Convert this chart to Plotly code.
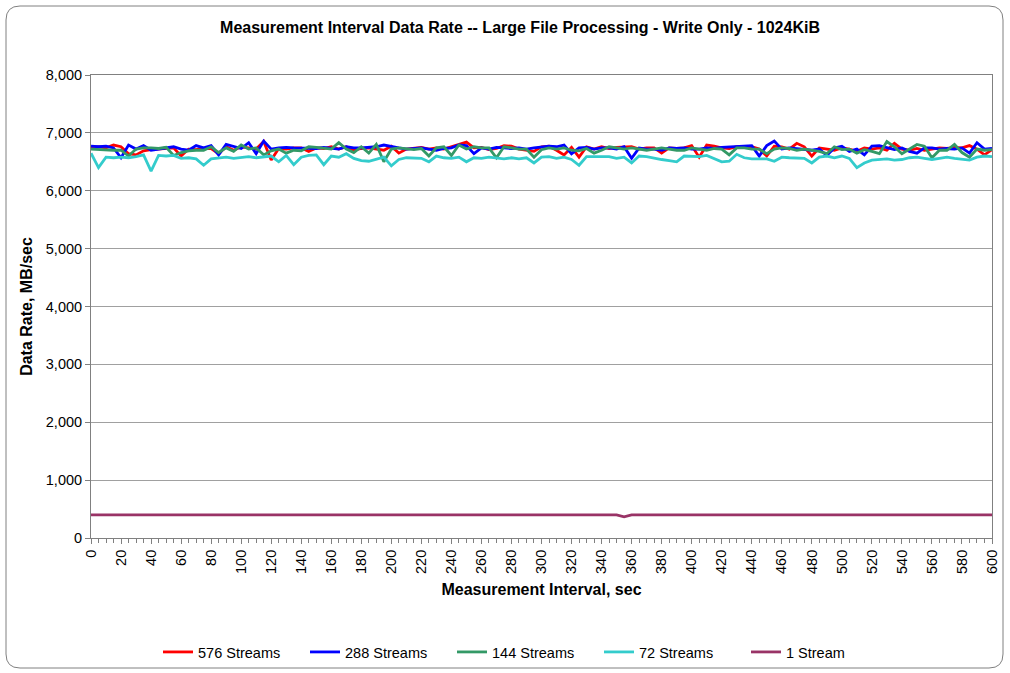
import plotly.graph_objects as go

# variables
size_plot = [1010, 673]  # [width, height]
font_family = 'Liberation Sans, Arial, sans-serif'
title_text = 'Measurement Interval Data Rate -- Large File Processing - Write Only - 1024KiB'
x_label = 'Measurement Interval, sec'
y_label = 'Data Rate, MB/sec'

# data (one point every 5 sec)
interval_sec = list(range(0, 605, 5))

rate_576 = [
    6750, 6760, 6740, 6790, 6760, 6640, 6620, 6690, 6710, 6720,
    6730, 6740, 6600, 6720, 6710, 6730, 6730, 6640, 6760, 6700,
    6760, 6740, 6720, 6850, 6530, 6730, 6720, 6740, 6740, 6680,
    6740, 6730, 6760, 6720, 6760, 6700, 6730, 6740, 6720, 6700,
    6770, 6650, 6720, 6740, 6750, 6720, 6740, 6720, 6760, 6790,
    6840, 6740, 6750, 6710, 6730, 6780, 6770, 6720, 6700, 6680,
    6760, 6770, 6700, 6620, 6750, 6580, 6760, 6720, 6760, 6730,
    6750, 6760, 6760, 6720, 6740, 6740, 6650, 6740, 6730, 6740,
    6780, 6580, 6790, 6770, 6740, 6730, 6760, 6750, 6760, 6720,
    6600, 6770, 6760, 6720, 6820, 6760, 6600, 6740, 6720, 6700,
    6740, 6720, 6680, 6740, 6720, 6740, 6700, 6820, 6720, 6700,
    6730, 6700, 6720, 6740, 6730, 6750, 6740, 6780, 6720, 6620, 6710,
]
rate_288 = [
    6770, 6760, 6770, 6740, 6570, 6790, 6720, 6780, 6700, 6720,
    6740, 6760, 6720, 6700, 6780, 6740, 6780, 6620, 6800, 6760,
    6730, 6830, 6640, 6860, 6720, 6740, 6750, 6740, 6740, 6740,
    6730, 6750, 6740, 6720, 6760, 6740, 6740, 6750, 6760, 6790,
    6760, 6740, 6720, 6730, 6740, 6720, 6700, 6730, 6740, 6790,
    6780, 6640, 6740, 6720, 6750, 6740, 6730, 6740, 6720, 6740,
    6760, 6770, 6760, 6790, 6640, 6740, 6750, 6720, 6740, 6740,
    6720, 6760, 6560, 6740, 6720, 6720, 6700, 6740, 6730, 6740,
    6720, 6720, 6740, 6730, 6750, 6760, 6770, 6770, 6780, 6600,
    6780, 6860, 6720, 6740, 6730, 6720, 6700, 6720, 6610, 6740,
    6770, 6680, 6720, 6620, 6770, 6780, 6740, 6710, 6740, 6680,
    6650, 6740, 6740, 6720, 6730, 6720, 6740, 6650, 6830, 6720, 6730,
]
rate_144 = [
    6720, 6710, 6710, 6700, 6700, 6600, 6720, 6740, 6740, 6730,
    6750, 6610, 6660, 6690, 6700, 6700, 6760, 6660, 6740, 6680,
    6790, 6720, 6740, 6620, 6690, 6720, 6650, 6700, 6690, 6760,
    6750, 6740, 6720, 6830, 6720, 6660, 6760, 6650, 6800, 6500,
    6720, 6740, 6720, 6710, 6730, 6600, 6740, 6760, 6610, 6790,
    6720, 6760, 6740, 6740, 6570, 6760, 6740, 6720, 6720, 6580,
    6710, 6740, 6720, 6740, 6700, 6690, 6730, 6650, 6700, 6760,
    6740, 6720, 6740, 6720, 6700, 6720, 6740, 6720, 6700, 6700,
    6740, 6720, 6700, 6730, 6720, 6620, 6740, 6740, 6720, 6720,
    6640, 6720, 6740, 6730, 6700, 6720, 6700, 6680, 6640, 6760,
    6710, 6720, 6650, 6710, 6680, 6640, 6850, 6760, 6640, 6720,
    6800, 6770, 6570, 6700, 6700, 6800, 6660, 6580, 6720, 6700, 6710,
]
rate_72 = [
    6650, 6400, 6580, 6570, 6580, 6570, 6590, 6620, 6340, 6610,
    6600, 6610, 6560, 6570, 6550, 6440, 6550, 6560, 6580, 6560,
    6580, 6590, 6570, 6580, 6600, 6500, 6610, 6450, 6580, 6610,
    6620, 6450, 6600, 6580, 6640, 6560, 6520, 6510, 6550, 6580,
    6430, 6540, 6570, 6570, 6560, 6500, 6600, 6570, 6560, 6580,
    6500, 6570, 6560, 6580, 6560, 6550, 6570, 6550, 6570, 6480,
    6580, 6590, 6560, 6580, 6540, 6440, 6590, 6590, 6580, 6590,
    6560, 6580, 6480, 6600, 6590, 6560, 6540, 6520, 6500, 6600,
    6600, 6590, 6610, 6560, 6500, 6510, 6630, 6570, 6550, 6550,
    6550, 6510, 6580, 6570, 6570, 6560, 6480, 6580, 6600, 6570,
    6600, 6560, 6400, 6480, 6530, 6540, 6550, 6530, 6540, 6570,
    6580, 6560, 6540, 6560, 6580, 6560, 6550, 6530, 6580, 6600, 6590,
]
rate_1 = [
    400, 400, 400, 400, 400, 400, 400, 400, 400, 400,
    400, 400, 400, 400, 400, 400, 400, 400, 400, 400,
    400, 400, 400, 400, 400, 400, 400, 400, 400, 400,
    400, 400, 400, 400, 400, 400, 400, 400, 400, 400,
    400, 400, 400, 400, 400, 400, 400, 400, 400, 400,
    400, 400, 400, 400, 400, 400, 400, 400, 400, 400,
    400, 400, 400, 400, 400, 400, 400, 400, 400, 400,
    400, 366, 400, 400, 400, 400, 400, 400, 400, 400,
    400, 400, 400, 400, 400, 400, 400, 400, 400, 400,
    400, 400, 400, 400, 400, 400, 400, 400, 400, 400,
    400, 400, 400, 400, 400, 400, 400, 400, 400, 400,
    400, 400, 400, 400, 400, 400, 400, 400, 400, 400, 400,
]

series = [
    ('576 Streams', rate_576, '#FF0000'),
    ('288 Streams', rate_288, '#0000FF'),
    ('144 Streams', rate_144, '#339966'),
    ('72 Streams', rate_72, '#33CCCC'),
    ('1 Stream', rate_1, '#993366'),
]

fig = go.Figure()
for name, values, color in series:
    fig.add_trace(go.Scatter(x=interval_sec, y=values, mode='lines', name=name,
                             line=dict(color=color, width=2.8)))

# plot area in pixels
left, right, top, bottom = 91, 18, 75, 135
pw = size_plot[0] - left - right
ph = size_plot[1] - top - bottom

def px_x(p):
    return (p - left) / pw

def px_y(p):
    return (size_plot[1] - bottom - p) / ph

# outer rounded border of the chart
x0, x1, y0, y1, r = 6, 1003, 6, 668, 14
path = (f'M {px_x(x0 + r)},{px_y(y0)} L {px_x(x1 - r)},{px_y(y0)} '
        f'Q {px_x(x1)},{px_y(y0)} {px_x(x1)},{px_y(y0 + r)} '
        f'L {px_x(x1)},{px_y(y1 - r)} Q {px_x(x1)},{px_y(y1)} {px_x(x1 - r)},{px_y(y1)} '
        f'L {px_x(x0 + r)},{px_y(y1)} Q {px_x(x0)},{px_y(y1)} {px_x(x0)},{px_y(y1 - r)} '
        f'L {px_x(x0)},{px_y(y0 + r)} Q {px_x(x0)},{px_y(y0)} {px_x(x0 + r)},{px_y(y0)} Z')
fig.add_shape(type='path', path=path, xref='paper', yref='paper',
              line=dict(color='#808080', width=1), layer='below')

fig.update_layout(
    width=size_plot[0],
    height=size_plot[1],
    margin=dict(l=left, r=right, t=top, b=bottom, autoexpand=False),
    paper_bgcolor='white',
    plot_bgcolor='white',
    font=dict(family=font_family, color='black', size=14.5),
    title=dict(text='<b>' + title_text + '</b>', x=px_x(520), xanchor='center', xref='paper',
               y=1 - 27 / size_plot[1], yanchor='middle', font=dict(size=16)),
    showlegend=True,
    legend=dict(orientation='h', x=px_x(158), xanchor='left',
                y=px_y(652), yanchor='middle', font=dict(size=14.5),
                bgcolor='rgba(0,0,0,0)',
                entrywidth=102, entrywidthmode='pixels', tracegroupgap=0),
)

fig.update_xaxes(
    range=[0, 600],
    tickmode='array',
    tickvals=list(range(0, 620, 20)),
    ticktext=[str(v) for v in range(0, 620, 20)],
    tickangle=-90,
    ticks='outside', ticklen=5, tickcolor='#808080',
    minor=dict(ticks='outside', ticklen=4, dtick=5, tick0=0, tickcolor='#808080'),
    showline=True, linecolor='#808080', linewidth=1, mirror=True,
    showgrid=False, zeroline=False, automargin=False,
    title=dict(text='<b>' + x_label + '</b>', font=dict(size=16), standoff=10),
)
fig.update_yaxes(
    range=[0, 8000],
    tickmode='array',
    tickvals=list(range(0, 9000, 1000)),
    ticktext=[f'{v:,}' for v in range(0, 9000, 1000)],
    ticks='outside', ticklen=5, tickcolor='#808080',
    showline=True, linecolor='#808080', linewidth=1, mirror=True,
    showgrid=True, gridcolor='#A0A0A0', gridwidth=1, zeroline=False, automargin=False,
    title=dict(text='<b>' + y_label + '</b>', font=dict(size=16), standoff=9),
)

# the page body has a default margin; remove it so the chart sits at the window origin
fig.write_html('out.html', config={'displayModeBar': False},
               post_script="document.body.style.margin='0';")
